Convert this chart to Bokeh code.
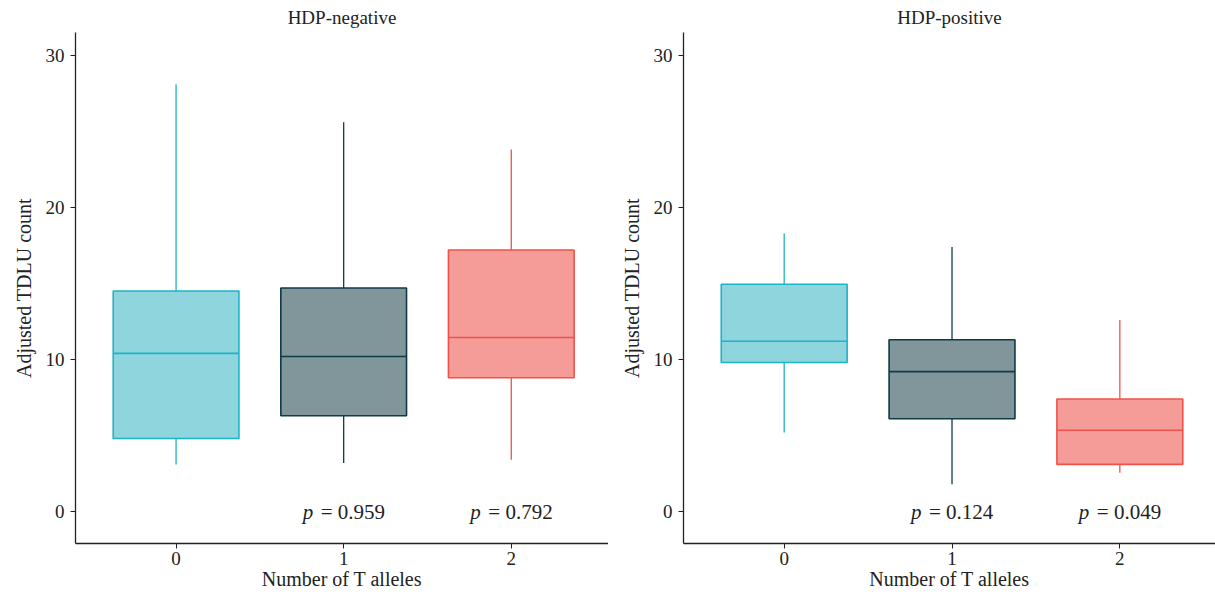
from bokeh.plotting import figure
from bokeh.layouts import row
from bokeh.models import FixedTicker, Range1d, Title, ColumnDataSource
from bokeh.core.properties import value
from bokeh.embed import file_html
from bokeh.resources import INLINE

alleles = [0, 1, 2]
tick_labels = {0: "0", 1: "1", 2: "2"}
line_colors = ["#1db4c6", "#0e3b44", "#f0524a"]
fill_colors = ["#8fd5de", "#80969a", "#f59b98"]

# HDP-negative
neg_lower = [3.1, 3.2, 3.4]
neg_q1 = [4.8, 6.3, 8.8]
neg_median = [10.4, 10.2, 11.45]
neg_q3 = [14.5, 14.7, 17.2]
neg_upper = [28.1, 25.6, 23.8]
neg_p = ["", "0.959", "0.792"]

# HDP-positive
pos_lower = [5.2, 1.8, 2.55]
pos_q1 = [9.8, 6.1, 3.1]
pos_median = [11.2, 9.2, 5.35]
pos_q3 = [14.95, 11.3, 7.4]
pos_upper = [18.3, 17.4, 12.6]
pos_p = ["", "0.124", "0.049"]

FONT = "Liberation Serif"
BOX_W = 0.75


def make_panel(title, lower, q1, med, q3, upper, pvals, width, border_left, x_end):
    p = figure(width=width, height=592, output_backend="svg", toolbar_location=None,
               x_range=Range1d(-0.6, x_end), y_range=Range1d(-2.1, 31.5),
               min_border_left=border_left, min_border_right=0, min_border_top=0,
               min_border_bottom=0)
    p.title = Title(text=title, align="center", text_font=FONT, text_font_size="19px",
                    text_font_style="normal", text_color="#222222", standoff=9)
    p.outline_line_color = None
    p.xgrid.grid_line_color = None
    p.ygrid.grid_line_color = None

    src = ColumnDataSource(dict(
        x=alleles, lower=lower, q1=q1, med=med, q3=q3, upper=upper,
        xl=[a - BOX_W / 2 for a in alleles], xr=[a + BOX_W / 2 for a in alleles],
        lc=line_colors, fc=fill_colors,
    ))
    p.segment(x0="x", x1="x", y0="q3", y1="upper", line_color="lc", line_width=1.3, source=src)
    p.segment(x0="x", x1="x", y0="lower", y1="q1", line_color="lc", line_width=1.3, source=src)
    p.vbar(x="x", width=BOX_W, bottom="q1", top="q3", fill_color="fc", line_color="lc",
           line_width=1.6, source=src)
    p.segment(x0="xl", x1="xr", y0="med", y1="med", line_color="lc", line_width=1.6, source=src)

    px = [a for a, t in zip(alleles, pvals) if t]
    ptxt = ["= " + t for t in pvals if t]
    py = [0] * len(px)
    psrc = ColumnDataSource(dict(x=px, y=py, t=ptxt, pp=["p"] * len(px)))
    p.text(x="x", y="y", text="pp", source=psrc, text_font=value(FONT), text_font_style="italic",
           text_font_size="21px", text_align="left", text_baseline="middle",
           x_offset=-41, text_color="#222222")
    p.text(x="x", y="y", text="t", source=psrc, text_font=value(FONT),
           text_font_size="21px", text_align="left", text_baseline="middle",
           x_offset=-23, text_color="#222222")

    for ax in (p.xaxis[0], p.yaxis[0]):
        ax.axis_line_color = "#222222"
        ax.axis_line_width = 1.3
        ax.major_tick_line_color = "#222222"
        ax.major_tick_out = 5
        ax.major_tick_in = 0
        ax.minor_tick_line_color = None
        ax.major_label_text_font = FONT
        ax.major_label_text_font_size = "19px"
        ax.major_label_text_color = "#222222"
        ax.axis_label_text_font = FONT
        ax.axis_label_text_font_size = "20px"
        ax.axis_label_text_font_style = "normal"
        ax.axis_label_text_color = "#222222"

    p.xaxis.ticker = FixedTicker(ticks=alleles)
    p.xaxis.major_label_overrides = tick_labels
    p.xaxis.axis_label = "Number of T alleles"
    p.xaxis.major_label_standoff = 3
    p.xaxis.axis_label_standoff = 0
    p.yaxis.ticker = FixedTicker(ticks=[0, 10, 20, 30])
    p.yaxis.axis_label = "Adjusted TDLU count"
    p.yaxis.major_label_standoff = 6
    p.yaxis.axis_label_standoff = 8
    return p


left = make_panel("HDP-negative", neg_lower, neg_q1, neg_median, neg_q3, neg_upper, neg_p,
                  608, 75, 2.58)
right = make_panel("HDP-positive", pos_lower, pos_q1, pos_median, pos_q3, pos_upper, pos_p,
                   607, 75, 2.57)

layout = row(left, right)
open("out.html", "w").write(file_html(layout, INLINE))
